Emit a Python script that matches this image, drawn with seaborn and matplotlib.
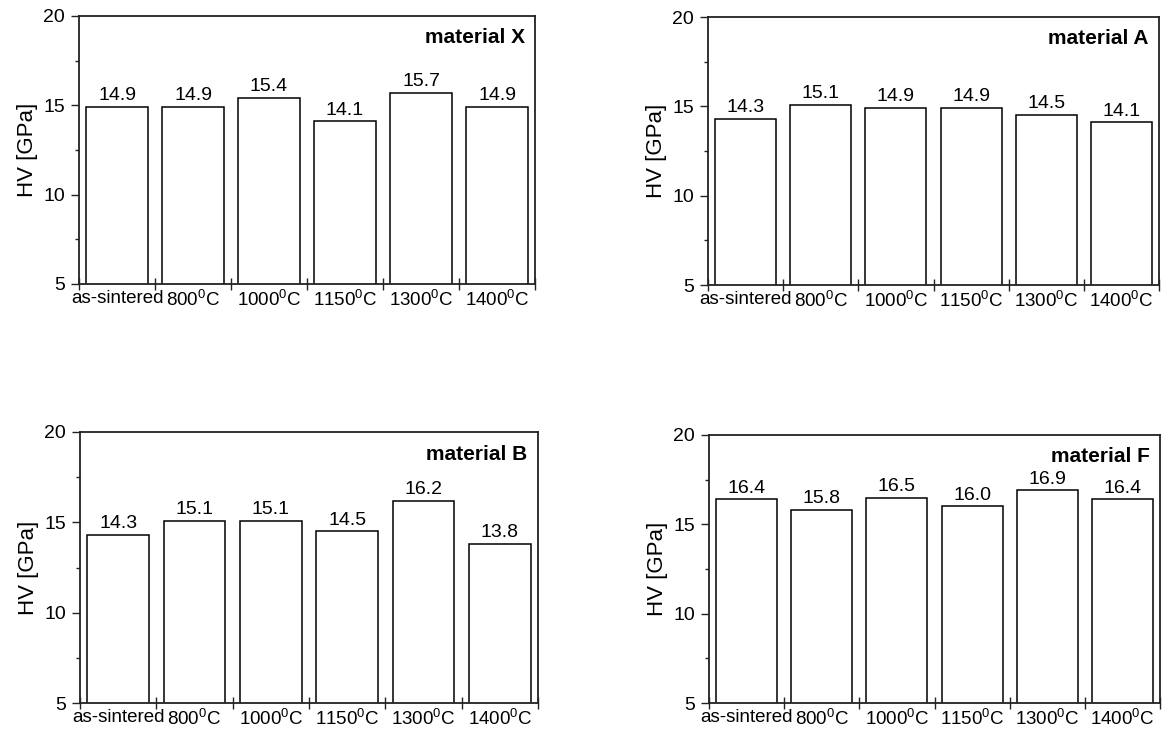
import matplotlib
matplotlib.use("Agg")
import matplotlib.pyplot as plt
import seaborn as sns
import pandas as pd
import numpy as np
from matplotlib.ticker import FixedLocator

sns.set_style("ticks")
plt.rcParams['font.family'] = ['Liberation Sans', 'DejaVu Sans']
plt.rcParams['mathtext.fontset'] = 'custom'
plt.rcParams['mathtext.rm'] = 'Liberation Sans'
plt.rcParams['mathtext.it'] = 'Liberation Sans'
plt.rcParams['mathtext.bf'] = 'Liberation Sans:bold'
plt.rcParams['text.color'] = 'black'
plt.rcParams['axes.labelcolor'] = 'black'
plt.rcParams['xtick.labelcolor'] = 'black'
plt.rcParams['ytick.labelcolor'] = 'black'

conditions = ["as-sintered", r"800$^{0}$C", r"1000$^{0}$C", r"1150$^{0}$C", r"1300$^{0}$C", r"1400$^{0}$C"]
hv_x = [14.9, 14.9, 15.4, 14.1, 15.7, 14.9]
hv_a = [14.3, 15.1, 14.9, 14.9, 14.5, 14.1]
hv_b = [14.3, 15.1, 15.1, 14.5, 16.2, 13.8]
hv_f = [16.4, 15.8, 16.5, 16.0, 16.9, 16.4]
titles = ["material X", "material A", "material B", "material F"]

W, H = 1168, 731
fig = plt.figure(figsize=(W / 100, H / 100), dpi=100)

# axes boxes in pixels: left, top, right, bottom
boxes = [(79, 16, 535, 284), (708, 17, 1159, 285), (80, 432, 538, 703), (709, 435, 1160, 703)]
series = [hv_x, hv_a, hv_b, hv_f]

for (l, t, r, b), vals, title in zip(boxes, series, titles):
    ax = fig.add_axes([l / W, (H - b) / H, (r - l) / W, (b - t) / H])
    df = pd.DataFrame({"cond": conditions, "hv": vals})
    sns.barplot(data=df, x="cond", y="hv", ax=ax, color="white", saturation=1,
                edgecolor="black", linewidth=1.1, width=0.81, errorbar=None)
    ax.bar_label(ax.containers[0], fmt="%.1f", padding=2, fontsize=14, color="black")
    ax.set_xlim(-0.5, 5.5)
    ax.set_ylim(5, 20)
    ax.yaxis.set_major_locator(FixedLocator([5, 10, 15, 20]))
    ax.yaxis.set_minor_locator(FixedLocator([7.5, 12.5, 17.5]))
    ax.xaxis.set_minor_locator(FixedLocator([-0.5, 0.5, 1.5, 2.5, 3.5, 4.5, 5.5]))
    ax.tick_params(axis="x", which="major", length=0, pad=4, labelsize=13.5, labelcolor="black")
    ax.tick_params(axis="x", which="minor", direction="inout", length=8, width=1.0, color="#222222")
    ax.tick_params(axis="y", which="major", direction="out", length=6, width=1.0, pad=4,
                   labelsize=14, color="#222222", labelcolor="black")
    ax.tick_params(axis="y", which="minor", direction="out", length=3, width=1.0, color="#222222")
    for s in ax.spines.values():
        s.set_visible(True)
        s.set_linewidth(1.3)
        s.set_color("#222222")
    ax.set_xlabel("")
    ax.set_ylabel("HV [GPa]", fontsize=16, labelpad=4, color="black")
    ax.text(0.977, 0.918, title, transform=ax.transAxes, ha="right", va="center",
            fontsize=15, fontweight="bold", color="black")

fig.savefig("out.png", dpi=100)
